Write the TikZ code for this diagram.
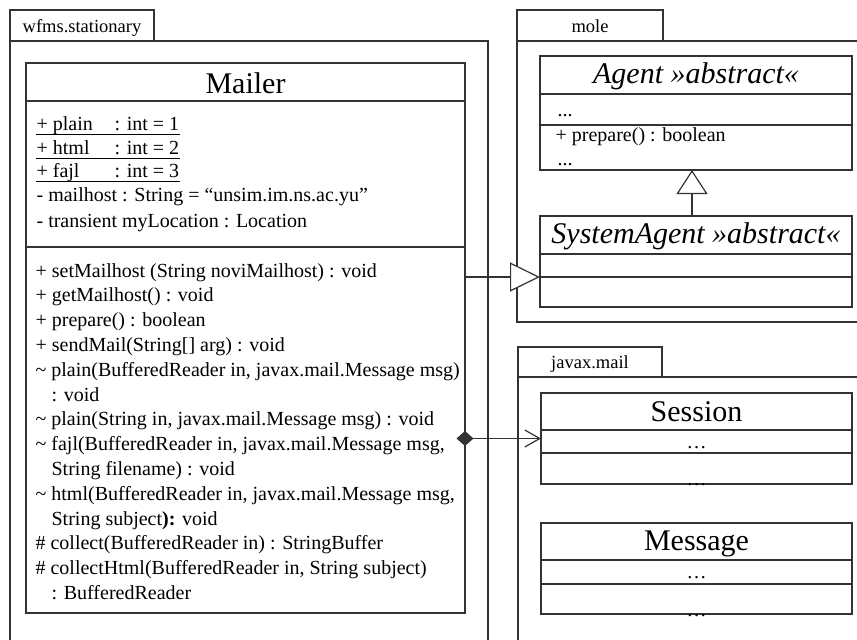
\documentclass[tikz,border=0pt]{standalone}
\usepackage{fontspec}
\setmainfont{Liberation Serif}
\usetikzlibrary{arrows.meta}
\begin{document}
\begin{tikzpicture}[x=1pt,y=-1pt,
  line width=1.2pt,
  pkg/.style={draw=black!80, line width=1.2pt},
  cls/.style={draw=black!80, line width=1.3pt, anchor=north west, inner sep=0pt, outer sep=0pt},
  divl/.style={draw=black!80, line width=1.3pt},
  txt/.style={anchor=base west, inner sep=0pt, font=\fontsize{20}{22}\selectfont},
  dots/.style={anchor=base, inner sep=0pt, font=\fontsize{20}{22}\selectfont},
  ttl/.style={anchor=base, inner sep=0pt, font=\fontsize{30}{34}\selectfont},
  plab/.style={anchor=base, inner sep=0pt, font=\fontsize{18.5}{20}\selectfont},
  gen/.style={draw=black!80, line width=1.2pt},
  comp/.style={draw=black!80, line width=1.2pt}
]
\useasboundingbox (0,0) rectangle (857,640);

% ---------- packages ----------
\draw[pkg] (10,10) rectangle (154,41);
\node[plab] (lwfms) at (82,32) {wfms.stationary};
\draw[pkg] (10,640) -- (10,41) -- (488,41) -- (488,640);

\draw[pkg] (517,10) rectangle (663,41);
\node[plab] (lmole) at (590,32) {mole};
\draw[pkg] (857,41) -- (517,41) -- (517,322) -- (857,322);

\draw[pkg] (518,347) rectangle (662,377);
\node[plab] (ljavax) at (590,368) {javax.mail};
\draw[pkg] (518,640) -- (518,377) -- (857,377);

% ---------- Mailer ----------
\node[cls, minimum width=439pt, minimum height=550pt] (mailer) at (26,63) {};
\draw[divl] (26,101) -- (465,101);
\draw[divl] (26,247) -- (465,247);
\node[ttl] (tmailer) at (245.5,93) {Mailer};

\node[txt] (a1) at (36,130.7) {\makebox[78pt][l]{+ plain}: int = 1};
\node[txt] (a2) at (36,154) {\makebox[78pt][l]{+ html}: int = 2};
\node[txt] (a3) at (36,177.5) {\makebox[78pt][l]{+ fajl}: int = 3};
\draw[black, line width=0.9pt] ([yshift=-4pt]a1.base west) -- ([yshift=-4pt]a1.base east);
\draw[black, line width=0.9pt] ([yshift=-4pt]a2.base west) -- ([yshift=-4pt]a2.base east);
\draw[black, line width=0.9pt] ([yshift=-4pt]a3.base west) -- ([yshift=-4pt]a3.base east);
\node[txt] (a4) at (36,201.7) {- mailhost : String = “unsim.im.ns.ac.yu”};
\node[txt] (a5) at (36,227.7) {- transient myLocation : Location};

\node[txt] (m1)  at (35,277)   {+ setMailhost (String noviMailhost) : void};
\node[txt] (m2)  at (35,301.8) {+ getMailhost() : void};
\node[txt] (m3)  at (35,326.6) {+ prepare() : boolean};
\node[txt] (m4)  at (35,351.4) {+ sendMail(String[] arg) : void};
\node[txt] (m5)  at (35,376.2) {\textasciitilde\ plain(BufferedReader in, javax.mail.Message msg)};
\node[txt] (m6)  at (51,401.0) {: void};
\node[txt] (m7)  at (35,425.8) {\textasciitilde\ plain(String in, javax.mail.Message msg) : void};
\node[txt] (m8)  at (35,450.6) {\textasciitilde\ fajl(BufferedReader in, javax.mail.Message msg,};
\node[txt] (m9)  at (51,475.4) {String filename) : void};
\node[txt] (m10) at (35,500.2) {\textasciitilde\ html(BufferedReader in, javax.mail.Message msg,};
\node[txt] (m11) at (51,525.0) {String subject\textbf{):} void};
\node[txt] (m12) at (35,549.8) {\# collect(BufferedReader in) : StringBuffer};
\node[txt] (m13) at (35,574.6) {\# collectHtml(BufferedReader in, String subject)};
\node[txt] (m14) at (51,599.4) {: BufferedReader};

% ---------- Agent ----------
\node[cls, minimum width=312pt, minimum height=114pt] (agent) at (540,56) {};
\draw[divl] (540,94) -- (852,94);
\draw[divl] (540,125) -- (852,125);
\node[ttl] (tagent) at (696,83.5) {\itshape Agent »abstract«};
\node[txt] (ag1) at (557,116.5) {...};
\node[txt] (ag2) at (555,141.7) {+ prepare() : boolean};
\node[txt] (ag3) at (557,165.5) {...};

% ---------- SystemAgent ----------
\node[cls, minimum width=312pt, minimum height=91pt] (sysagent) at (540,216) {};
\draw[divl] (540,254) -- (852,254);
\draw[divl] (540,277) -- (852,277);
\node[ttl] (tsys) at (696,243) {\itshape SystemAgent »abstract«};

% ---------- Session ----------
\node[cls, minimum width=311pt, minimum height=91pt] (session) at (541,393) {};
\draw[divl] (541,430) -- (852,430);
\draw[divl] (541,453) -- (852,453);
\node[ttl] (tsession) at (696.5,421) {Session};
\node[dots] (se1) at (696.5,448) {…};
\node[dots] (se2) at (696.5,485.5) {…};

% ---------- Message ----------
\node[cls, minimum width=311pt, minimum height=91pt] (message) at (541,523) {};
\draw[divl] (541,560) -- (852,560);
\draw[divl] (541,584) -- (852,584);
\node[ttl] (tmessage) at (696.5,550) {Message};
\node[dots] (me1) at (696.5,578) {…};
\node[dots] (me2) at (696.5,616) {…};

% ---------- connectors ----------
\coordinate (y277) at (0,277);
\coordinate (sadiv) at (sysagent.west |- y277);
\draw[gen, -{Triangle[length=30pt,width=29pt,fill=white]}] (mailer.east |- sadiv) -- (sadiv);
\draw[gen, -{Triangle[length=24pt,width=31pt,fill=white]}] ([xshift=-4pt]sysagent.north) -- ([xshift=-4pt]agent.south);
\draw[comp, shorten <=-8.5pt, {Diamond[length=17pt,width=15pt]}-{Straight Barb[length=15pt,width=17pt]}] (mailer.east |- session.west) -- (session.west);
\end{tikzpicture}
\end{document}
